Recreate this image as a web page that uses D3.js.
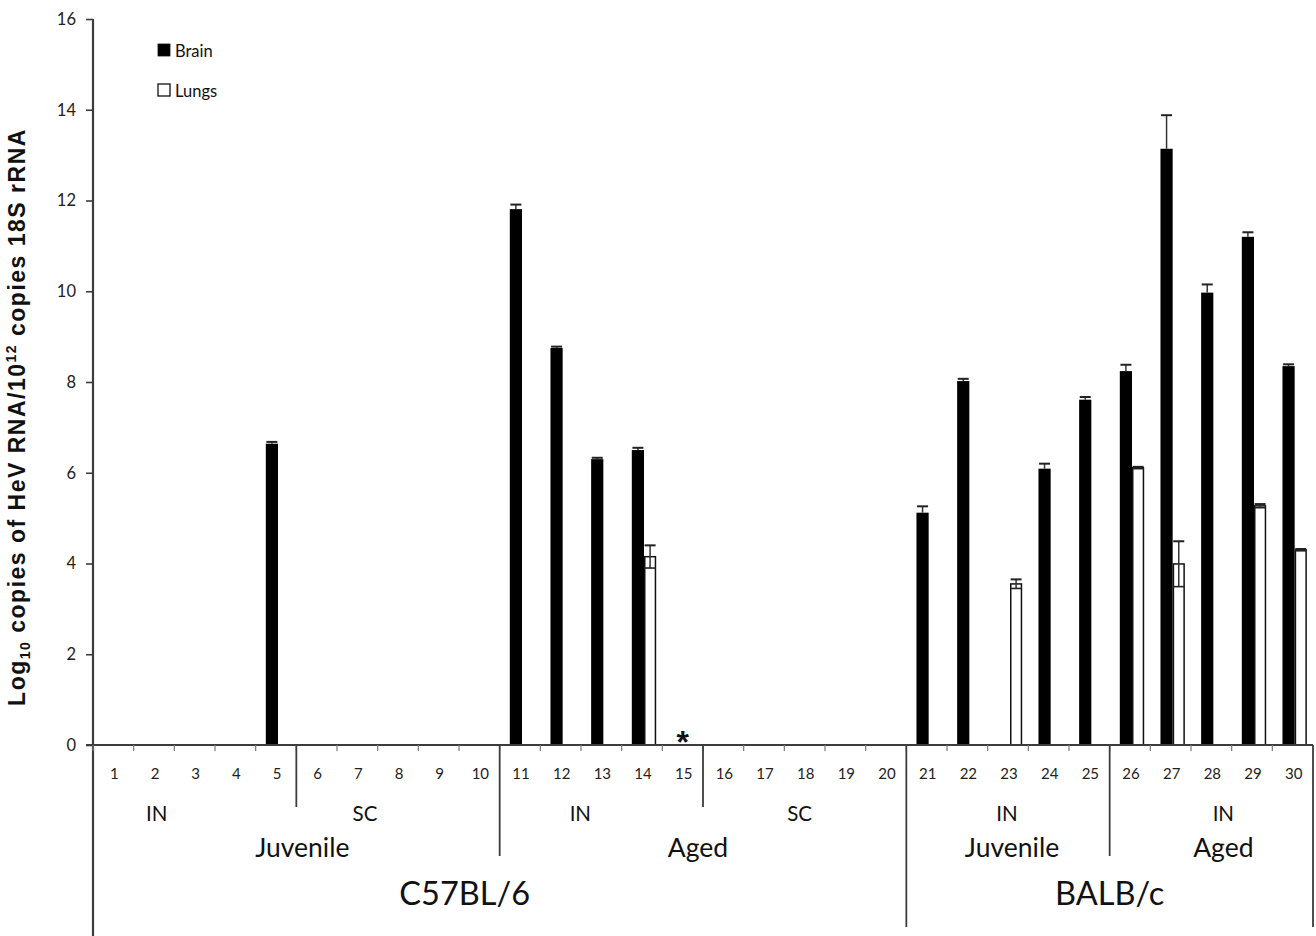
<!DOCTYPE html>
<html>
<head>
<meta charset="utf-8">
<script src="https://cdn.jsdelivr.net/npm/d3@7"></script>
<style>
  html, body { margin: 0; padding: 0; background: #fff; }
  svg { display: block; }
</style>
</head>
<body>
<svg id="chart" width="1316" height="936"></svg>
<script>
// ---------------- DATA ----------------
const categories = ["1","2","3","4","5","6","7","8","9","10","11","12","13","14","15",
                    "16","17","18","19","20","21","22","23","24","25","26","27","28","29","30"];
const brain    = [null,null,null,null,6.64, null,null,null,null,null,
                  11.81,8.75,6.3,6.5,null, null,null,null,null,null,
                  5.12,8.02,null,6.09,7.61, 8.24,13.14,9.97,11.2,8.35];
const brainErr = [0,0,0,0,0.04, 0,0,0,0,0,
                  0.1,0.03,0.03,0.05,0, 0,0,0,0,0,
                  0.14,0.05,0,0.11,0.06, 0.14,0.74,0.18,0.1,0.04];
const lungs    = [null,null,null,null,null, null,null,null,null,null,
                  null,null,null,4.15,null, null,null,null,null,null,
                  null,null,3.55,null,null, 6.11,3.99,null,5.27,4.3];
const lungsErr = [0,0,0,0,0, 0,0,0,0,0,
                  0,0,0,0.25,0, 0,0,0,0,0,
                  0,0,0.1,0,0, 0.02,0.5,0,0.04,0.02];
const yTicks = [0,2,4,6,8,10,12,14,16];
const seriesNames = ["Brain","Lungs"];
const treatments = ["IN","SC","IN","SC","IN","IN"];
const treatmentSpans = [[1,5],[6,10],[11,15],[16,20],[21,25],[26,30]];
const ages = ["Juvenile","Aged","Juvenile","Aged"];
const ageSpans = [[1,10],[11,20],[21,25],[26,30]];
const strains = ["C57BL/6","BALB/c"];
const strainSpans = [[1,20],[21,30]];
const markedCategory = "15";   // asterisk
const yTitle = ["Log", "10", " copies of HeV RNA/10", "12", " copies 18S rRNA"];

// ---------------- LAYOUT ----------------
const svg = d3.select("#chart");
const X0 = 93, X1 = 1313, Y0 = 745, YTOP = 19, BOTTOM = 936;
const axisColor = "#3c3c3c";
const font = "Lato, 'Open Sans', sans-serif";

const x = d3.scaleBand().domain(categories).range([X0, X1]).padding(0);
const y = d3.scaleLinear().domain([0, 16]).range([Y0, YTOP]);
const bw = x.bandwidth();
const barW = bw * 0.3;
const groupShift = 2;
const xs = d3.scaleBand().domain(seriesNames)
  .range([bw / 2 + groupShift - barW, bw / 2 + groupShift + barW]).padding(0);

// Y axis
const yAxis = d3.axisLeft(y).tickValues(yTicks).tickSize(7).tickPadding(10);
const gy = svg.append("g").attr("transform", `translate(${X0},0)`).call(yAxis);
gy.select(".domain").remove();
gy.selectAll(".tick line").attr("stroke", axisColor).attr("stroke-width", 1.6);
gy.selectAll(".tick text").attr("font-family", font).attr("font-size", 16.5).attr("fill", "#222");
svg.append("line").attr("x1", X0).attr("x2", X0).attr("y1", y(16)).attr("y2", BOTTOM)
  .attr("stroke", axisColor).attr("stroke-width", 2.2);

// Y title
const yt = svg.append("text")
  .attr("transform", `translate(25, ${(y(16) + y(0)) / 2 + 35}) rotate(-90)`)
  .attr("text-anchor", "middle")
  .attr("font-family", "'Liberation Sans', Arial, sans-serif")
  .attr("letter-spacing", 1.5)
  .attr("font-weight", "bold").attr("font-size", 23).attr("fill", "#111");
yTitle.forEach((t, i) => {
  const ts = yt.append("tspan").text(t);
  if (i === 1) ts.attr("font-size", 14).attr("dy", 5);
  if (i === 2) ts.attr("dy", -5);
  if (i === 3) ts.attr("font-size", 14).attr("dy", -9);
  if (i === 4) ts.attr("dy", 9);
});

// Bars
const bars = svg.append("g");
categories.forEach((c, i) => {
  if (brain[i] != null) {
    bars.append("rect")
      .attr("x", x(c) + xs("Brain")).attr("width", xs.bandwidth())
      .attr("y", y(brain[i])).attr("height", y(0) - y(brain[i]))
      .attr("fill", "#000");
  }
  if (lungs[i] != null) {
    bars.append("rect")
      .attr("x", x(c) + xs("Lungs") + 0.75).attr("width", xs.bandwidth() - 1.5)
      .attr("y", y(lungs[i])).attr("height", y(0) - y(lungs[i]))
      .attr("fill", "#fff").attr("stroke", "#111").attr("stroke-width", 1.5);
  }
});

// Error bars
const errs = svg.append("g");
function errBar(cx, v, e, both) {
  if (!e) return;
  const capW = 5.5;
  const yLo = both ? y(v - e) : y(v);
  errs.append("line").attr("x1", cx).attr("x2", cx).attr("y1", y(v + e)).attr("y2", yLo)
    .attr("stroke", "#333").attr("stroke-width", 1.5);
  errs.append("line").attr("x1", cx - capW).attr("x2", cx + capW).attr("y1", y(v + e)).attr("y2", y(v + e))
    .attr("stroke", "#222").attr("stroke-width", 2);
  if (both) {
    errs.append("line").attr("x1", cx - capW).attr("x2", cx + capW).attr("y1", yLo).attr("y2", yLo)
      .attr("stroke", "#222").attr("stroke-width", 1.6);
  }
}
categories.forEach((c, i) => {
  if (brain[i] != null) errBar(x(c) + xs("Brain") + xs.bandwidth() / 2, brain[i], brainErr[i], false);
  if (lungs[i] != null) errBar(x(c) + xs("Lungs") + xs.bandwidth() / 2, lungs[i], lungsErr[i], true);
});

// X axis line and ticks
svg.append("line").attr("x1", X0 - 7).attr("x2", X1).attr("y1", Y0).attr("y2", Y0)
  .attr("stroke", axisColor).attr("stroke-width", 2.2);
categories.forEach(c => {
  svg.append("line").attr("x1", x(c)).attr("x2", x(c)).attr("y1", Y0).attr("y2", Y0 + 6)
    .attr("stroke", "#777").attr("stroke-width", 1.2);
  svg.append("text").attr("x", x(c) + bw / 2 + 1).attr("y", 773)
    .attr("text-anchor", "middle").attr("dominant-baseline", "central")
    .attr("font-family", font).attr("font-size", 15).attr("fill", "#222").text(c);
});

// Group dividers
const boundaryLevel = {};
treatmentSpans.forEach(s => boundaryLevel[s[1]] = 807);
ageSpans.forEach(s => boundaryLevel[s[1]] = 856);
strainSpans.forEach(s => boundaryLevel[s[1]] = 927);
Object.keys(boundaryLevel).forEach(k => {
  const bx = x(categories[k - 1]) + bw;
  svg.append("line").attr("x1", bx).attr("x2", bx).attr("y1", Y0).attr("y2", boundaryLevel[k])
    .attr("stroke", axisColor).attr("stroke-width", 1.8);
});

// Group labels
function spanCenter(s) { return (x(categories[s[0] - 1]) + x(categories[s[1] - 1]) + bw) / 2; }
const treatNudge = [-38, -33, -21, -5, -1, 12];
const ageNudge = [6, -5, 4, 12];
const strainNudge = [-35, 0];
treatments.forEach((t, i) => {
  svg.append("text").attr("x", spanCenter(treatmentSpans[i]) + treatNudge[i]).attr("y", 813)
    .attr("text-anchor", "middle").attr("dominant-baseline", "central")
    .attr("font-family", font).attr("font-size", 20.5).attr("fill", "#111").text(t);
});
ages.forEach((t, i) => {
  svg.append("text").attr("x", spanCenter(ageSpans[i]) + ageNudge[i]).attr("y", 847)
    .attr("text-anchor", "middle").attr("dominant-baseline", "central")
    .attr("font-family", font).attr("font-size", 26.5).attr("fill", "#111").text(t);
});
strains.forEach((t, i) => {
  svg.append("text").attr("x", spanCenter(strainSpans[i]) + strainNudge[i]).attr("y", 892)
    .attr("text-anchor", "middle").attr("dominant-baseline", "central")
    .attr("font-family", font).attr("font-size", 32.5).attr("fill", "#111").text(t);
});

// Asterisk
svg.append("text").attr("x", x(markedCategory) + bw / 2).attr("y", y(0) + 8)
  .attr("text-anchor", "middle")
  .attr("font-family", "'Liberation Sans', Arial, sans-serif").attr("font-weight", "bold")
  .attr("font-size", 32).attr("fill", "#111").text("*");

// Legend
const legend = svg.append("g").attr("transform", "translate(158,44)");
seriesNames.forEach((s, i) => {
  const g = legend.append("g").attr("transform", `translate(0, ${i * 40})`);
  g.append("rect").attr("x", 0).attr("y", 0).attr("width", 12).attr("height", 12)
    .attr("fill", i === 0 ? "#000" : "#fff").attr("stroke", "#111").attr("stroke-width", i === 0 ? 0.8 : 1.3);
  g.append("text").attr("x", 17).attr("y", 6.5).attr("dominant-baseline", "central")
    .attr("font-family", font).attr("font-size", 16.5).attr("fill", "#111").text(s);
});
</script>
</body>
</html>
